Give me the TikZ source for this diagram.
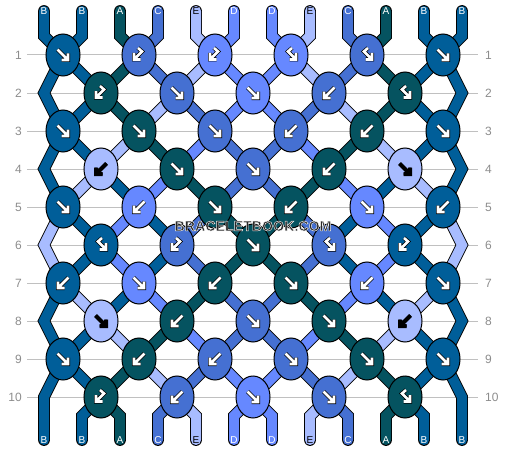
\documentclass[tikz,border=0pt]{standalone}
\usepackage{fontspec}
\setmainfont{Liberation Sans}
\usetikzlibrary{shapes.geometric,backgrounds}
\definecolor{cA}{RGB}{5,83,96}
\definecolor{cB}{RGB}{0,94,153}
\definecolor{cC}{RGB}{69,112,210}
\definecolor{cD}{RGB}{102,136,255}
\definecolor{cE}{RGB}{168,188,255}
\definecolor{numgray}{RGB}{140,140,140}
\definecolor{linegray}{RGB}{192,192,192}
\definecolor{wmgray}{RGB}{40,40,40}
\newcommand{\haloed}[1]{\special{pdf:literal 2 Tr 0.45 w 0.95 0.95 0.95 RG}#1\special{pdf:literal 0 Tr}}
\tikzstyle{knot}=[ellipse,draw=black,line width=1pt,minimum width=34pt,minimum height=42pt,inner sep=0pt]
\tikzstyle{lbl}=[font=\fontsize{10}{12}\selectfont,inner sep=0pt]
\tikzstyle{rownr}=[font=\fontsize{12}{14}\selectfont,text=numgray,inner sep=0pt]
\tikzstyle{gridline}=[draw=linegray,line width=1pt]
\tikzstyle{wmark}=[font=\fontsize{14.2}{16}\selectfont\bfseries,inner sep=0pt]
\tikzstyle{arr}=[line width=2.6pt,line join=miter,preaction={draw=black,line width=4pt}]
\tikzset{
  strand/.style={draw=black,line width=0.9pt,double=#1,double distance=10pt,line cap=round,line join=miter},
  ink cA/.style={white}, ink cB/.style={white}, ink cC/.style={white},
  ink cD/.style={white}, ink cE/.style={black},
  fw/.pic={\draw[arr] (-5.5,-5.5) -- (5,5) (-1.5,5) -- (5,5) -- (5,-1.5);},
  bw/.pic={\draw[arr] (5.5,-5.5) -- (-5,5) (1.5,5) -- (-5,5) -- (-5,-1.5);},
  bf/.pic={\draw[arr] (-1,-7) -- (3,-3.5) -- (-5,4.5) (1.5,4.5) -- (-5,4.5) -- (-5,-2);},
  fb/.pic={\draw[arr] (1,-7) -- (-3,-3.5) -- (5,4.5) (-1.5,4.5) -- (5,4.5) -- (5,-2);}
}

\begin{document}
\begin{tikzpicture}[x=1pt,y=-1pt]
\useasboundingbox (0,0) rectangle (506,452);

% knots, row by row
\foreach \r/\x/\row in {
  1/63/{cB/fw,cC/bf,cD/bf,cD/fb,cC/fb,cB/fw},
  2/101/{cA/bf,cC/fw,cD/fw,cC/bw,cA/fb},
  3/63/{cB/fw,cA/fw,cC/fw,cC/bw,cA/bw,cB/fw},
  4/101/{cE/bw,cA/fw,cC/fw,cA/bw,cE/fw},
  5/63/{cB/fw,cD/bw,cA/fw,cA/bw,cD/fw,cB/bw},
  6/101/{cB/fb,cC/bf,cA/fw,cC/fb,cB/bf},
  7/63/{cB/bw,cD/fw,cA/bw,cA/fw,cD/bw,cB/fw},
  8/101/{cE/fw,cA/bw,cC/fw,cA/fw,cE/bw},
  9/63/{cB/fw,cA/bw,cC/bw,cC/fw,cA/fw,cB/fw},
  10/101/{cA/bf,cC/bw,cD/fw,cC/fw,cA/fb}}
  \foreach \col/\arr [count=\c] in \row {
    \node[knot,fill=\col] (k\r-\c) at ({\x+76*(\c-1)},{55+38*(\r-1)}) {};
    \pic[ink \col] at (k\r-\c) {\arr};
  }

% edge turns
\foreach \r in {2,4,...,10} {
  \coordinate (L\r) at (44,{55+38*(\r-1)});
  \coordinate (R\r) at (462,{55+38*(\r-1)});
}

% string ends and letters
\foreach \s [count=\i] in {B,B,A,C,E,D,D,E,C,A,B,B} {
  \node[lbl,ink c\s] (lt\i) at ({44+38*(\i-1)},11) {\s};
  \node[lbl,ink c\s] (lb\i) at ({44+38*(\i-1)},440) {\s};
  \coordinate (v\i) at ({44+38*(\i-1)},36);
  \coordinate (u\i) at ({44+38*(\i-1)},416);
}

% row numbers
\foreach \r in {1,...,10} {
  \node[rownr,anchor=east] (nl\r) at (22,{55+38*(\r-1)}) {\r};
  \node[rownr,anchor=west] (nr\r) at (485,{55+38*(\r-1)}) {\r};
}

\node[wmark,text=wmgray] (wm) at (253,226) {\haloed{BRACELETBOOK.COM}};

\begin{pgfonlayer}{background}
\foreach \r in {1,...,10}
  \draw[gridline] ([xshift=5pt]nl\r.east) -- ([xshift=-7pt]nr\r.west);

\foreach \col/\a/\route/\b in {
  cB/1/{k1-1,k2-1,k3-1,L4,k5-1,k6-1,k7-1,L8,k9-1,k10-1}/2,
  cB/2/{k1-1,L2,k3-1,k4-1,k5-2,k6-2,k7-2,k8-1,k9-1,L10}/1,
  cA/3/{k1-2,k2-1,k3-2,k4-2,k5-3,k6-3,k7-4,k8-4,k9-5,k10-5}/10,
  cC/4/{k1-2,k2-2,k3-3,k4-3,k5-4,k6-4,k7-4,k8-3,k9-3,k10-2}/4,
  cE/5/{k1-3,k2-2,k3-2,k4-1,k5-1,L6,k7-1,k8-1,k9-2,k10-2}/5,
  cD/6/{k1-3,k2-3,k3-4,k4-4,k5-5,k6-5,k7-5,k8-4,k9-4,k10-3}/6,
  cD/7/{k1-4,k2-3,k3-3,k4-2,k5-2,k6-1,k7-2,k8-2,k9-3,k10-3}/7,
  cE/8/{k1-4,k2-4,k3-5,k4-5,k5-6,R6,k7-6,k8-5,k9-5,k10-4}/8,
  cC/9/{k1-5,k2-4,k3-4,k4-3,k5-3,k6-2,k7-3,k8-3,k9-4,k10-4}/9,
  cA/10/{k1-5,k2-5,k3-5,k4-4,k5-4,k6-3,k7-3,k8-2,k9-2,k10-1}/3,
  cB/11/{k1-6,R2,k3-6,k4-5,k5-5,k6-4,k7-5,k8-5,k9-6,R10}/12,
  cB/12/{k1-6,k2-5,k3-6,R4,k5-6,k6-5,k7-6,R8,k9-6,k10-5}/11}
  \draw[strand=\col] (lt\a.center) -- (v\a) \foreach \n in \route {-- (\n.center)} -- (u\b) -- (lb\b.center);
\end{pgfonlayer}
\end{tikzpicture}
\end{document}
